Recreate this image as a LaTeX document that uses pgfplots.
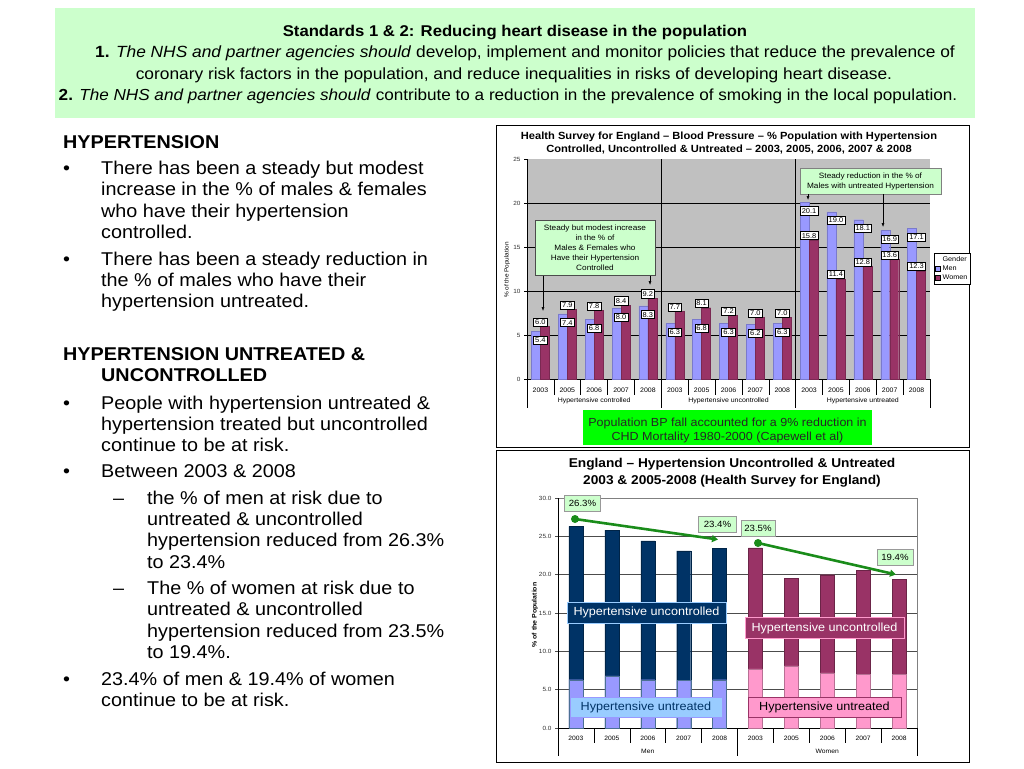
\documentclass[border=0pt]{standalone}
\usepackage{fontspec}
\setmainfont{Liberation Sans}[FakeStretch=1.07]
\usepackage{pgfplots}
\pgfplotsset{compat=1.18}
\usetikzlibrary{arrows.meta}
\definecolor{hdrgreen}{HTML}{CCFFCC}
\definecolor{chartgray}{HTML}{C0C0C0}
\definecolor{menblue}{HTML}{9999FF}
\definecolor{wmaroon}{HTML}{993366}
\definecolor{navy}{HTML}{003366}
\definecolor{pinkw}{HTML}{FF99CC}
\definecolor{lblue}{HTML}{99CCFF}
\definecolor{bgreen}{HTML}{00FF00}
\definecolor{agreen}{HTML}{1A8C1A}
\newcommand{\fs}[1]{\fontsize{#1}{#1}\selectfont}
\begin{document}
\begin{tikzpicture}
\path[use as bounding box, fill=white] (0pt,0pt) rectangle (1024pt,-768pt);
\begin{scope}[x=1pt,y=-1pt]
% header
\fill[hdrgreen] (55,8) rectangle (975,118);
\node[anchor=base, inner sep=0, font=\fs{15.6}\bfseries] at (515,37) {Standards 1 \& 2: Reducing heart disease in the population};
\node[anchor=base, inner sep=0, font=\fs{16.2}] at (525,58) {\textbf{1.} \textit{The NHS and partner agencies should} develop, implement and monitor policies that reduce the prevalence of};
\node[anchor=base, inner sep=0, font=\fs{16.2}] at (514,79) {coronary risk factors in the population, and reduce inequalities in risks of developing heart disease.};
\node[anchor=base, inner sep=0, font=\fs{16.0}] at (508,100) {\textbf{2.} \textit{The NHS and partner agencies should} contribute to a reduction in the prevalence of smoking in the local population.};
% left column
\begin{scope}[every node/.style={anchor=base west, inner sep=0, font=\fs{18.5}}]
\node[font=\fs{18.5}\bfseries] at (63,148) {HYPERTENSION};
\node at (63,174) {•}; \node at (101,174) {There has been a steady but modest};
\node at (101,195.5) {increase in the \% of males \& females};
\node at (101,217) {who have their hypertension};
\node at (101,238) {controlled.};
\node at (63,265) {•}; \node at (101,265) {There has been a steady reduction in};
\node at (101,286) {the \% of males who have their};
\node at (101,307) {hypertension untreated.};
\node[font=\fs{18.5}\bfseries] at (63,360) {HYPERTENSION UNTREATED \&};
\node[font=\fs{18.5}\bfseries] at (101,381.5) {UNCONTROLLED};
\node at (63,409) {•}; \node at (101,409) {People with hypertension untreated \&};
\node at (101,430) {hypertension treated but uncontrolled};
\node at (101,451) {continue to be at risk.};
\node at (63,477) {•}; \node at (101,477) {Between 2003 \& 2008};
\node at (113,504) {–}; \node at (147,504) {the \% of men at risk due to};
\node at (147,525) {untreated \& uncontrolled};
\node at (147,546.5) {hypertension reduced from 26.3\%};
\node at (147,568) {to 23.4\%};
\node at (113,594) {–}; \node at (147,594) {The \% of women at risk due to};
\node at (147,615.5) {untreated \& uncontrolled};
\node at (147,637) {hypertension reduced from 23.5\%};
\node at (147,658) {to 19.4\%.};
\node at (63,685) {•}; \node at (101,685) {23.4\% of men \& 19.4\% of women};
\node at (101,706.5) {continue to be at risk.};
\end{scope}
% chart frames
\draw[black, line width=0.7pt] (496,125) rectangle (969,447);
\draw[black, line width=0.7pt] (496,450) rectangle (969,762);
\node[anchor=base, inner sep=0, font=\fs{10.4}\bfseries] at (729,139) {Health Survey for England – Blood Pressure – \% Population with Hypertension};
\node[anchor=base, inner sep=0, font=\fs{10.4}\bfseries] at (729,152.5) {Controlled, Uncontrolled \& Untreated – 2003, 2005, 2006, 2007 \& 2008};
\node[anchor=base, inner sep=0, font=\fs{12.8}\bfseries] at (732,467) {England – Hypertension Uncontrolled \& Untreated};
\node[anchor=base, inner sep=0, font=\fs{12.8}\bfseries] at (732,484) {2003 \& 2005-2008 (Health Survey for England)};
\node[rotate=90, font=\fs{6}, inner sep=0] at (507,270) {\% of the Population};
\node[rotate=90, font=\fs{6.5}\bfseries, inner sep=0] at (535,615) {\% of the Population};
\end{scope}

%================ TOP CHART
\begin{axis}[
  at={(527pt,-379pt)}, anchor=south west, scale only axis,
  width=403pt, height=220pt,
  xmin=-0.5, xmax=14.5, ymin=0, ymax=25,
  ytick={0,5,10,15,20,25},
  xtick={0,...,14},
  xticklabels={2003,2005,2006,2007,2008,2003,2005,2006,2007,2008,2003,2005,2006,2007,2008},
  x tick style={draw=none},
  y tick style={black, line width=0.4pt},
  major tick length=3pt, tick align=outside,
  axis lines*=left,
  axis line style={black, line width=0.6pt},
  axis background/.style={fill=chartgray},
  clip=false,
  /pgf/number format/assume math mode=true,
  yticklabel style={font=\fs{6}, text=black!80},
  xticklabel style={font=\fs{6.5}, yshift=-2pt},
  legend style={at={(1.01,0.573)}, anchor=north west, font=\fs{6.8}, draw=black, fill=white,
    inner sep=1pt, row sep=-1pt, legend cell align=left},
]
\foreach \g in {5,10,15,20} {\edef\tmp{\noexpand\draw[black, line width=0.5pt] (axis cs:-0.5,\g) -- (axis cs:14.5,\g);}\tmp}
\draw[black, line width=1pt] (axis cs:4.5,25) -- ([yshift=-29pt]axis cs:4.5,0);
\draw[black, line width=1pt] (axis cs:9.5,25) -- ([yshift=-29pt]axis cs:9.5,0);
\draw[black, line width=0.6pt] (axis cs:-0.5,0) -- ([yshift=-29pt]axis cs:-0.5,0);
\draw[black, line width=0.6pt] (axis cs:14.5,0) -- ([yshift=-29pt]axis cs:14.5,0);
\foreach \s in {0.5,1.5,2.5,3.5,5.5,6.5,7.5,8.5,10.5,11.5,12.5,13.5} {\edef\tmp{\noexpand\draw[black, line width=0.5pt] (axis cs:\s,0) -- ([yshift=-16pt]axis cs:\s,0);}\tmp}
\node[font=\fs{6.5}] at ([yshift=-22pt]axis cs:2,0) {Hypertensive controlled};
\node[font=\fs{6.5}] at ([yshift=-22pt]axis cs:7,0) {Hypertensive uncontrolled};
\node[font=\fs{6.5}] at ([yshift=-22pt]axis cs:12,0) {Hypertensive untreated};
\addlegendimage{empty legend}\addlegendentry{Gender}
\addlegendimage{legend image code/.code={\draw[fill=menblue,draw=black,line width=0.3pt] (0pt,-2.5pt) rectangle (5pt,2.5pt);}}\addlegendentry{Men}
\addlegendimage{legend image code/.code={\draw[fill=wmaroon,draw=black,line width=0.3pt] (0pt,-2.5pt) rectangle (5pt,2.5pt);}}\addlegendentry{Women}
\addplot[forget plot, ybar, bar width=9pt, bar shift=-4.5pt, fill=menblue, draw=menblue!80!black, line width=0.3pt,
  nodes near coords={\pgfmathprintnumber[fixed,fixed zerofill,precision=1]{\pgfplotspointmeta}},
  every node near coord/.append style={font=\fs{7}, fill=white, draw=black, line width=0.5pt, inner sep=1.6pt, yshift=-13pt, text=black}]
  coordinates {(0,5.4) (1,7.4) (2,6.8) (3,8.0) (4,8.3) (5,6.3) (6,6.8) (7,6.3) (8,6.2) (9,6.3) (10,20.1) (11,19.0) (12,18.1) (13,16.9) (14,17.1)};
\addplot[forget plot, ybar, bar width=9pt, bar shift=4.5pt, fill=wmaroon, draw=wmaroon!80!black, line width=0.3pt,
  nodes near coords={\pgfmathprintnumber[fixed,fixed zerofill,precision=1]{\pgfplotspointmeta}},
  every node near coord/.append style={font=\fs{7}, fill=white, draw=black, line width=0.5pt, inner sep=1.6pt, text=black}]
  coordinates {(0,6.0) (1,7.9) (2,7.8) (3,8.4) (4,9.2) (5,7.7) (6,8.1) (7,7.2) (8,7.0) (9,7.0) (10,15.8) (11,11.4) (12,12.8) (13,13.6) (14,12.3)};
\end{axis}

%================ BOTTOM CHART
\begin{axis}[
  at={(558pt,-728pt)}, anchor=south west, scale only axis,
  width=359pt, height=230pt,
  xmin=-0.5, xmax=9.5, ymin=0, ymax=30,
  ytick={0,5,10,15,20,25,30},
  xtick={0,...,9},
  xticklabels={2003,2005,2006,2007,2008,2003,2005,2006,2007,2008},
  x tick style={draw=none},
  y tick style={black!70, line width=0.4pt},
  ytick pos=left,
  major tick length=3pt, tick align=outside,
  axis line style={black!50, line width=0.6pt},
  ymajorgrids, grid style={black!70, line width=0.7pt},
  clip=false,
  /pgf/number format/assume math mode=true,
  yticklabel={\pgfmathprintnumber[fixed,fixed zerofill,precision=1]{\tick}},
  yticklabel style={font=\fs{6}, text=black!80},
  xticklabel style={font=\fs{6.3}, yshift=-2pt},
]
\draw[black, line width=0.6pt] (axis cs:-0.5,30) -- ([yshift=-28pt]axis cs:-0.5,0);
\draw[black, line width=0.6pt] (axis cs:4.5,0) -- ([yshift=-28pt]axis cs:4.5,0);
\draw[black, line width=0.6pt] (axis cs:9.5,0) -- ([yshift=-28pt]axis cs:9.5,0);
\draw[black, line width=0.6pt] (axis cs:-0.5,0) -- (axis cs:9.5,0);
\foreach \s in {0.5,1.5,2.5,3.5,5.5,6.5,7.5,8.5} {\edef\tmp{\noexpand\draw[black, line width=0.5pt] (axis cs:\s,0) -- ([yshift=-15pt]axis cs:\s,0);}\tmp}
\node[font=\fs{6.3}] at ([yshift=-23pt]axis cs:2,0) {Men};
\node[font=\fs{6.3}] at ([yshift=-23pt]axis cs:7,0) {Women};
% men total (dark) and lower part (light)
\addplot[ybar, bar width=14pt, bar shift=0pt, fill=navy, draw=navy!70!black, line width=0.3pt]
  coordinates {(0,26.3) (1,25.8) (2,24.4) (3,23.1) (4,23.4)};
\addplot[ybar, bar width=14pt, bar shift=0pt, fill=menblue, draw=navy!70, line width=0.3pt]
  coordinates {(0,6.3) (1,6.8) (2,6.3) (3,6.2) (4,6.3)};
\addplot[ybar, bar width=14pt, bar shift=0pt, fill=wmaroon, draw=wmaroon!70!black, line width=0.3pt]
  coordinates {(5,23.5) (6,19.5) (7,20.0) (8,20.6) (9,19.4)};
\addplot[ybar, bar width=14pt, bar shift=0pt, fill=pinkw, draw=wmaroon!70, line width=0.3pt]
  coordinates {(5,7.7) (6,8.1) (7,7.2) (8,7.0) (9,7.0)};
\end{axis}

\begin{scope}[x=1pt,y=-1pt]
% green box
\fill[bgreen] (583,410) rectangle (872,445);
\node[anchor=base, inner sep=0, font=\fs{11.7}, text=black!85] at (727.5,426) {Population BP fall accounted for a 9\% reduction in};
\node[anchor=base, inner sep=0, font=\fs{11.7}, text=black!85] at (727.5,440) {CHD Mortality 1980-2000 (Capewell et al)};
% top callouts
\draw[fill=hdrgreen, draw=black!70, line width=0.5pt] (535.5,220) rectangle (655,275.5);
\node[align=center, inner sep=0, font=\fontsize{7.7}{10}\selectfont] at (595,248) {Steady but modest increase\\in the \% of\\Males \& Females who\\Have their Hypertension\\Controlled};
\draw[-{Latex[length=4pt,width=3pt]}, line width=0.5pt] (543,275.5) -- (543,311);
\draw[-{Latex[length=4pt,width=3pt]}, line width=0.5pt] (650,275.5) -- (650,285);
\draw[fill=hdrgreen, draw=black!50, line width=0.5pt] (800,168) rectangle (941,194);
\node[align=center, inner sep=0, font=\fontsize{7.7}{10.6}\selectfont] at (870.5,181.5) {Steady reduction in the \% of\\Males with untreated Hypertension};
\draw[-{Latex[length=4pt,width=3pt]}, line width=0.5pt] (808,194) -- (808,200);
\draw[-{Latex[length=4pt,width=3pt]}, line width=0.5pt] (883,194) -- (883,227);
% bottom chart annotations
\draw[agreen, line width=2.6pt, -{Triangle[length=6pt,width=7pt]}] (575,519) -- (718,539.5);
\fill[agreen] (575,519) circle (4);
\draw[agreen, line width=2.6pt, -{Triangle[length=6pt,width=7pt]}] (758,543) -- (896,574.5);
\fill[agreen] (758,543) circle (4);
\begin{scope}[every node/.style={fill=hdrgreen, draw=black!40, line width=0.5pt, font=\fs{9}, inner sep=0, minimum height=16, anchor=center}]
\node[minimum width=36] at (582.5,503) {26.3\%};
\node[minimum width=38] at (717.5,524) {23.4\%};
\node[minimum width=34] at (758,528) {23.5\%};
\node[minimum width=36] at (895,557) {19.4\%};
\end{scope}
\node[fill=navy, draw=lblue, line width=0.5pt, text=white, font=\fs{11.8}, minimum width=159, minimum height=21, inner sep=0] at (646.5,612.5) {Hypertensive uncontrolled};
\node[fill=wmaroon, draw=pinkw, line width=0.5pt, text=white, font=\fs{11.8}, minimum width=159, minimum height=21, inner sep=0] at (824.5,628) {Hypertensive uncontrolled};
\node[fill=lblue, draw=menblue, line width=0.8pt, text=navy, font=\fs{11.8}, minimum width=152, minimum height=20, inner sep=0] at (646,707) {Hypertensive untreated};
\node[fill=pinkw, draw=wmaroon, line width=0.5pt, text=black, font=\fs{11.8}, minimum width=153, minimum height=20, inner sep=0] at (824.5,707) {Hypertensive untreated};
\end{scope}
\end{tikzpicture}
\end{document}
